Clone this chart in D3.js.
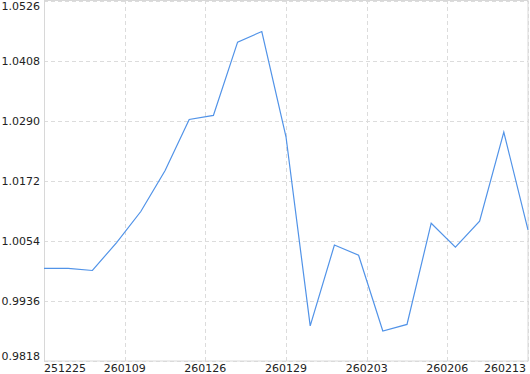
<!DOCTYPE html>
<html>
<head>
<meta charset="utf-8">
<script src="https://cdn.jsdelivr.net/npm/d3@7"></script>
<style>
    body { margin: 0; background: #fff; }
    svg text { font-family: "DejaVu Sans", Verdana, sans-serif; font-size: 11px; fill: #222; }
</style>
</head>
<body>
<svg id="chart" width="530" height="374"></svg>
<script>
// values, one per trading day
const values = [
    1.0000, 1.0000, 0.9996, 1.0051, 1.0112, 1.0192, 1.0293, 1.0301, 1.0445, 1.0466,
    1.0259, 0.9887, 1.0046, 1.0026, 0.9877, 0.9890, 1.0089, 1.0042, 1.0093, 1.0268,
    1.0076
];
const xTickLabels = ['251225', '260109', '260126', '260129', '260203', '260206', '260213'];
const yTicks = [0.9818, 0.9936, 1.0054, 1.0172, 1.0290, 1.0408, 1.0526];

const margin = {left: 44, right: 2, top: 1, bottom: 13};
const width = 530, height = 374;

const svg = d3.select('#chart');

const x = d3.scaleLinear()
    .domain([0, values.length - 1])
    .range([margin.left, width - margin.right]);
const y = d3.scaleLinear()
    .domain([yTicks[0], yTicks[yTicks.length - 1]])
    .range([height - margin.bottom, margin.top]);

// x ticks split the index range in equal parts
const xTicks = xTickLabels.map((d, i) => i * (values.length - 1) / (xTickLabels.length - 1));

// grid
svg.append('g').selectAll('line.gy')
    .data(yTicks)
    .join('line')
    .attr('x1', x.range()[0]).attr('x2', x.range()[1])
    .attr('y1', d => Math.round(y(d)) + 0.5).attr('y2', d => Math.round(y(d)) + 0.5)
    .attr('stroke', '#dcdcdc')
    .attr('stroke-dasharray', '4,3');
svg.append('g').selectAll('line.gx')
    .data(xTicks)
    .join('line')
    .attr('x1', d => Math.round(x(d)) + 0.5).attr('x2', d => Math.round(x(d)) + 0.5)
    .attr('y1', y.range()[0]).attr('y2', y.range()[1])
    .attr('stroke', '#dcdcdc')
    .attr('stroke-dasharray', '4,3');

// frame
svg.append('rect')
    .attr('x', margin.left + 0.5)
    .attr('y', margin.top - 0.5)
    .attr('width', width - margin.right - margin.left - 0.5)
    .attr('height', y.range()[0] - y.range()[1] + 0.5)
    .attr('fill', 'none')
    .attr('stroke', '#d8d8d8');

// y labels (kept inside the plot height)
svg.append('g').selectAll('text')
    .data(yTicks)
    .join('text')
    .attr('x', margin.left - 4)
    .attr('y', d => Math.min(Math.max(y(d), 6), 356))
    .attr('dy', '0.35em')
    .attr('text-anchor', 'end')
    .text(d => d.toFixed(4));

// x labels
svg.append('g').selectAll('text')
    .data(xTicks)
    .join('text')
    .attr('x', (d, i) => i === xTicks.length - 1 ? x(d) - 2 : x(d))
    .attr('y', 372)
    .attr('text-anchor', (d, i) => i === 0 ? 'start' : (i === xTicks.length - 1 ? 'end' : 'middle'))
    .text((d, i) => xTickLabels[i]);

// line
const line = d3.line()
    .x((d, i) => x(i))
    .y(d => y(d));

svg.append('path')
    .datum(values)
    .attr('d', line)
    .attr('fill', 'none')
    .attr('stroke', '#5193e8')
    .attr('stroke-width', 1.2);
</script>
</body>
</html>
